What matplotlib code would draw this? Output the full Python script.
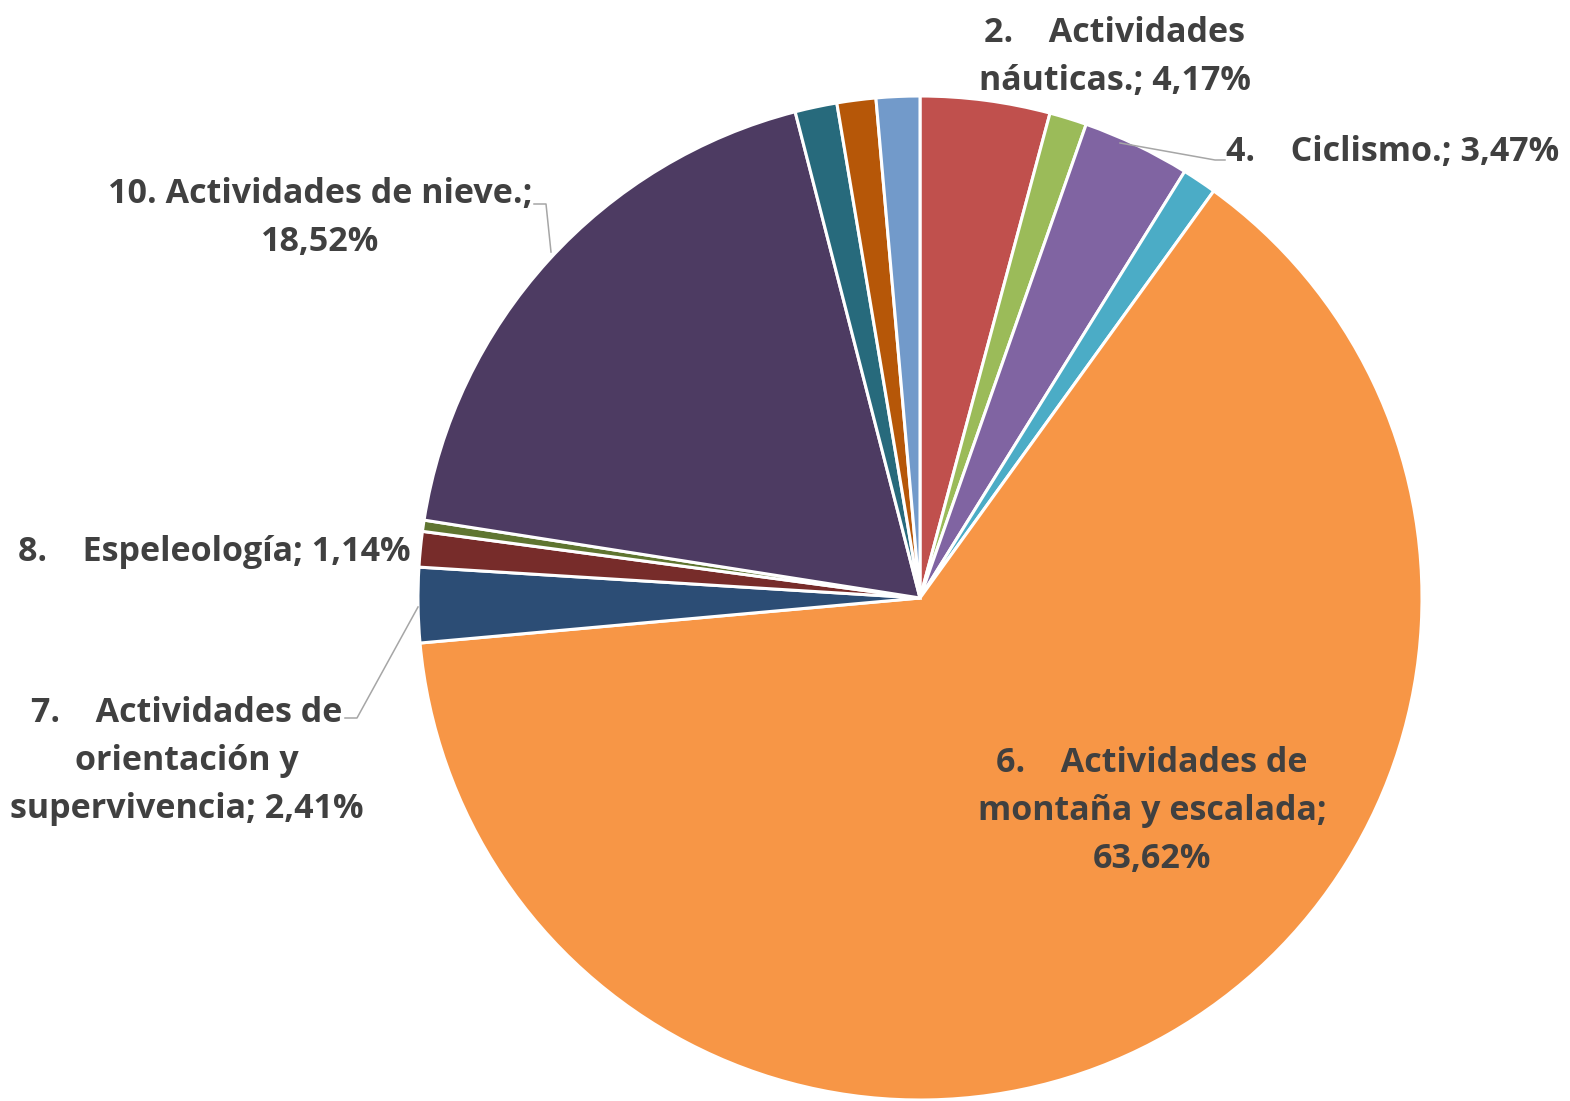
import matplotlib.pyplot as plt

# slice shares (%), clockwise from 12 o'clock
values = [4.17, 1.20, 3.47, 1.11, 63.62, 2.41, 1.14, 0.36, 18.52, 1.35, 1.25, 1.40]
colors = ['#C0504D', '#9BBB59', '#8064A2', '#4BACC6', '#F79646', '#2C4D75',
          '#772C2A', '#5F7530', '#4D3B62', '#276A7C', '#B65708', '#729ACA']

# only some slices carry a data label
label_texts = {
    0: "2.    Actividades\nnáuticas.; 4,17%",
    2: "4.    Ciclismo.; 3,47%",
    4: "6.    Actividades de\nmontaña y escalada;\n63,62%",
    5: "7.    Actividades de\norientación y\nsupervivencia; 2,41%",
    6: "8.    Espeleología; 1,14%",
    8: "10. Actividades de nieve.;\n18,52%",
}

W, H = 1570, 1101
fig = plt.figure(figsize=(W / 100, H / 100), dpi=100)
ax = fig.add_axes([0, 0, 1, 1])

def py(y):
    # picture y (top down) -> data y
    return H - y

ax.pie(values, colors=colors, startangle=90, counterclock=False,
       center=(920, py(598)), radius=502, frame=True,
       wedgeprops=dict(edgecolor='white', linewidth=2.2))
ax.set_xlim(0, W)
ax.set_ylim(0, H)
ax.set_aspect('equal')
ax.axis('off')

tkw = dict(fontsize=24.5, fontweight='bold', color='#404040', family='Open Sans',
           linespacing=1.52)

ax.text(1115, py(57), label_texts[0], ha='center', va='center', **tkw)
ax.text(1226, py(152), label_texts[2], ha='left', va='center', **tkw)
ax.text(1152, py(811), label_texts[4], ha='center', va='center', **tkw)
ax.text(187, py(761), label_texts[5], ha='center', va='center', **tkw)
ax.text(18, py(552), label_texts[6], ha='left', va='center', **tkw)
ax.text(320, py(218), label_texts[8], ha='center', va='center', **tkw)

lkw = dict(color='#A6A6A6', lw=1.1)
ax.plot([1120, 1215, 1225], [py(143), py(160), py(160)], **lkw)
ax.plot([534, 546, 551], [py(204), py(204), py(252)], **lkw)
ax.plot([345, 357, 418], [py(718), py(718), py(607)], **lkw)

fig.savefig('out.png', dpi=100, facecolor='white')
